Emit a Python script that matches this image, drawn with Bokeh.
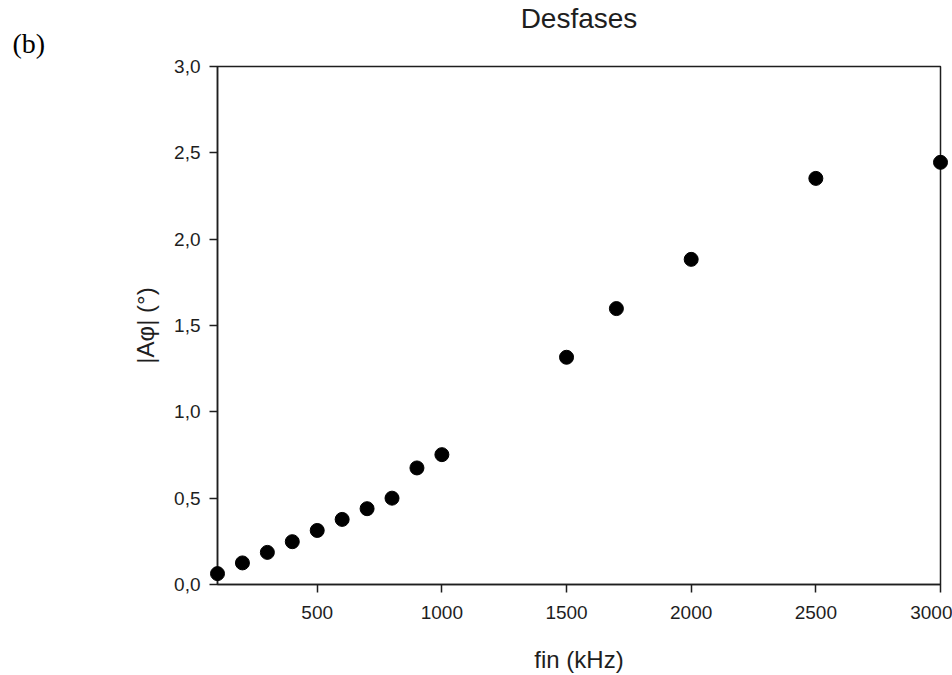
from bokeh.plotting import figure
from bokeh.models import Range1d, FixedTicker, CustomJSTickFormatter, Label, Title
from bokeh.layouts import row
from bokeh.embed import file_html
from bokeh.resources import INLINE

# Data
freq_khz = [100, 200, 300, 400, 500, 600, 700, 800, 900, 1000, 1500, 1700, 2000, 2500, 3000]
phase_deg = [0.063, 0.125, 0.186, 0.248, 0.313, 0.377, 0.439, 0.500, 0.675, 0.752,
             1.316, 1.598, 1.883, 2.352, 2.445]
x_ticks = [500, 1000, 1500, 2000, 2500, 3000]
y_ticks = [0.0, 0.5, 1.0, 1.5, 2.0, 2.5, 3.0]

TOTAL_W, H = 952, 675
TAG_W = 60
INK = "#1e1e1e"
FONT = "Liberation Sans"

# Narrow side strip that carries the panel tag "(b)" (its frame fills the strip,
# so its data units are pixels measured from the bottom-left corner)
tag_fig = figure(width=TAG_W, height=H, output_backend="svg", toolbar_location=None,
                 x_axis_location=None, y_axis_location=None, min_border=0,
                 x_range=Range1d(0, TAG_W), y_range=Range1d(0, H))
tag_fig.frame_align = False
tag_fig.grid.visible = False
tag_fig.outline_line_color = None
tag_fig.add_layout(Label(x=12, y=H - 43, text="(b)",
                         text_font="Liberation Serif", text_font_size="28px",
                         text_color="black", text_baseline="alphabetic", text_align="left"))

p = figure(width=TOTAL_W - TAG_W, height=H, output_backend="svg", toolbar_location=None,
           x_range=Range1d(100, 3000), y_range=Range1d(0, 3.0),
           min_border_left=217 - TAG_W, min_border_right=12, min_border_top=66,
           min_border_bottom=89,
           background_fill_color="white", border_fill_color="white")
p.frame_align = False

p.grid.visible = False
p.outline_line_color = INK
p.outline_line_width = 1.5
p.outline_line_alpha = 1.0

# blank spacer between the frame and the title
p.add_layout(Title(text=" ", text_font=FONT, text_font_size="23px", standoff=5), "above")

p.title.text = "Desfases"
p.title.align = "center"
p.title.vertical_align = "bottom"
p.title.text_font = FONT
p.title.text_font_size = "28px"
p.title.text_font_style = "normal"
p.title.text_color = INK
p.title.standoff = 0

for ax in (p.xaxis[0], p.yaxis[0]):
    ax.axis_line_color = INK
    ax.axis_line_width = 1.5
    ax.major_tick_line_color = INK
    ax.major_tick_line_width = 1.5
    ax.major_tick_out = 8
    ax.major_tick_in = 0
    ax.minor_tick_line_color = None
    ax.major_label_text_font = FONT
    ax.major_label_text_font_size = "19px"
    ax.major_label_text_color = INK
    ax.axis_label_text_font = FONT
    ax.axis_label_text_font_size = "24px"
    ax.axis_label_text_font_style = "normal"
    ax.axis_label_text_color = INK

p.xaxis.ticker = FixedTicker(ticks=x_ticks)
p.xaxis.axis_label = "fin (kHz)"
p.xaxis.major_label_standoff = 13
p.xaxis.axis_label_standoff = 24

p.yaxis.ticker = FixedTicker(ticks=y_ticks)
p.yaxis.formatter = CustomJSTickFormatter(code="return tick.toFixed(1).replace('.', ',');")
p.yaxis.axis_label = "|Aφ| (°)"
p.yaxis.major_label_standoff = 9
p.yaxis.axis_label_standoff = 12

r = p.scatter(freq_khz, phase_deg, size=14, color="black", marker="circle")
r.level = "overlay"

layout = row(tag_fig, p)
open("out.html", "w").write(file_html(layout, INLINE))
